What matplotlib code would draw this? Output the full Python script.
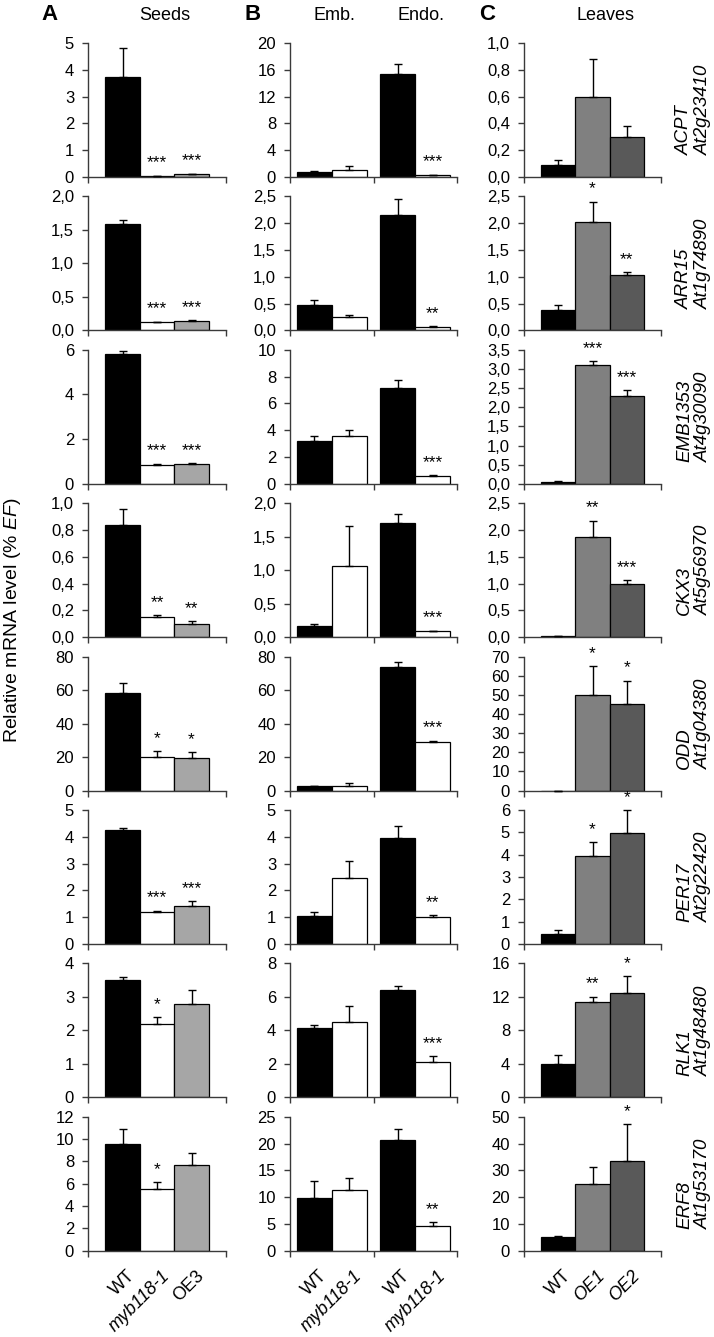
import matplotlib
matplotlib.use("Agg")
import matplotlib.pyplot as plt
from matplotlib import font_manager as fm
from matplotlib.ticker import FuncFormatter, MultipleLocator

# ---------------- data ----------------
genes = ["ACPT", "ARR15", "EMB1353", "CKX3", "ODD", "PER17", "RLK1", "ERF8"]
gene_ids = ["At2g23410", "At1g74890", "At4g30090", "At5g56970",
            "At1g04380", "At2g22420", "At1g48480", "At1g53170"]

seeds_labels = ["WT", "myb118-1", "OE3"]
emb_labels = ["WT", "myb118-1", "WT", "myb118-1"]
leaves_labels = ["WT", "OE1", "OE2"]

seeds_vals = [[3.72, 0.03, 0.10], [1.59, 0.12, 0.14], [5.80, 0.85, 0.88],
              [0.84, 0.15, 0.10], [58.0, 20.0, 19.5], [4.27, 1.20, 1.42],
              [3.50, 2.18, 2.80], [9.6, 5.5, 7.7]]
seeds_err = [[1.08, 0.01, 0.03], [0.06, 0.01, 0.015], [0.15, 0.05, 0.04],
             [0.12, 0.015, 0.02], [6.5, 3.5, 3.5], [0.04, 0.05, 0.18],
             [0.08, 0.22, 0.42], [1.3, 0.65, 1.05]]
seeds_stars = [["", "***", "***"], ["", "***", "***"], ["", "***", "***"],
               ["", "**", "**"], ["", "*", "*"], ["", "***", "***"],
               ["", "*", ""], ["", "*", ""]]

# Emb WT, Emb myb, Endo WT, Endo myb
embendo_vals = [[0.7, 1.0, 15.4, 0.3], [0.47, 0.25, 2.15, 0.07],
                [3.2, 3.6, 7.15, 0.55], [0.17, 1.06, 1.70, 0.09],
                [2.5, 3.0, 74.0, 29.0], [1.03, 2.45, 3.95, 1.0],
                [4.15, 4.5, 6.4, 2.1], [9.9, 11.4, 20.6, 4.6]]
embendo_err = [[0.15, 0.7, 1.5, 0.05], [0.09, 0.04, 0.30, 0.01],
               [0.35, 0.45, 0.6, 0.08], [0.02, 0.60, 0.14, 0.01],
               [0.5, 1.3, 2.5, 0.7], [0.17, 0.65, 0.45, 0.08],
               [0.2, 0.95, 0.25, 0.35], [3.1, 2.2, 2.2, 0.7]]
embendo_stars = [["", "", "", "***"], ["", "", "", "**"], ["", "", "", "***"],
                 ["", "", "", "***"], ["", "", "", "***"], ["", "", "", "**"],
                 ["", "", "", "***"], ["", "", "", "**"]]

leaves_vals = [[0.09, 0.60, 0.30], [0.38, 2.03, 1.03], [0.05, 3.10, 2.30],
               [0.02, 1.87, 1.00], [0.0, 50.0, 45.5], [0.45, 3.95, 4.95],
               [4.0, 11.4, 12.5], [5.0, 25.0, 33.5]]
leaves_err = [[0.04, 0.28, 0.08], [0.10, 0.37, 0.06], [0.02, 0.10, 0.15],
              [0.01, 0.30, 0.06], [0.0, 15.0, 12.0], [0.18, 0.60, 1.05],
              [1.05, 0.60, 2.0], [0.7, 6.2, 13.8]]
leaves_stars = [["", "", ""], ["", "*", "**"], ["", "***", "***"],
                ["", "**", "***"], ["", "*", "*"], ["", "*", "*"],
                ["", "**", "*"], ["", "", "*"]]

# axis ranges (max, step, decimals) per row for columns A, B, C
seeds_axis = [(5, 1, 0), (2.0, 0.5, 1), (6, 2, 0), (1.0, 0.2, 1),
              (80, 20, 0), (5, 1, 0), (4, 1, 0), (12, 2, 0)]
embendo_axis = [(20, 4, 0), (2.5, 0.5, 1), (10, 2, 0), (2.0, 0.5, 1),
                (80, 20, 0), (5, 1, 0), (8, 2, 0), (25, 5, 0)]
leaves_axis = [(1.0, 0.2, 1), (2.5, 0.5, 1), (3.5, 0.5, 1), (2.5, 0.5, 1),
               (70, 10, 0), (6, 1, 0), (16, 4, 0), (50, 10, 0)]

seeds_colors = ["#000000", "#ffffff", "#a6a6a6"]
embendo_colors = ["#000000", "#ffffff", "#000000", "#ffffff"]
leaves_colors = ["#000000", "#808080", "#595959"]

# ---------------- style ----------------
avail = {f.name for f in fm.fontManager.ttflist}
NARROW = "Liberation Sans Narrow" if "Liberation Sans Narrow" in avail else "Liberation Sans"
TICK_FS = 13 if NARROW == "Liberation Sans Narrow" else 12
plt.rcParams["font.family"] = ["Liberation Sans", "DejaVu Sans"]
plt.rcParams["mathtext.fontset"] = "custom"
plt.rcParams["mathtext.rm"] = "Liberation Sans"
plt.rcParams["mathtext.it"] = "Liberation Sans:italic"

W, H = 714, 1337
fig = plt.figure(figsize=(W / 100, H / 100), dpi=100)

col_px = [(88, 226), (290, 457), (524, 661)]
ROW_TOP0, ROW_PITCH, ROW_H = 43, 153.4, 134
AXCOL = "#3a3a3a"


def make_ax(col, row):
    x0, x1 = col_px[col]
    top = ROW_TOP0 + row * ROW_PITCH
    return fig.add_axes([x0 / W, 1 - (top + ROW_H) / H, (x1 - x0) / W, ROW_H / H])


def style_ax(ax, ymax, step, dec, boundaries):
    for s in ("top", "right"):
        ax.spines[s].set_visible(False)
    for s in ("left", "bottom"):
        ax.spines[s].set_color(AXCOL)
        ax.spines[s].set_linewidth(1.0)
    ax.set_ylim(0, ymax)
    ax.yaxis.set_major_locator(MultipleLocator(step))
    if dec:
        ax.yaxis.set_major_formatter(FuncFormatter(lambda v, p: f"{v:.1f}".replace(".", ",")))
    else:
        ax.yaxis.set_major_formatter(FuncFormatter(lambda v, p: f"{v:.0f}"))
    ax.tick_params(axis="y", direction="out", length=4, width=1, color=AXCOL,
                   pad=6, labelsize=TICK_FS)
    for t in ax.get_yticklabels():
        t.set_fontfamily(NARROW)
    ax.set_xticks(boundaries)
    ax.set_xticklabels([""] * len(boundaries))
    ax.tick_params(axis="x", direction="out", length=4, width=1, color=AXCOL)


def draw(ax, xs, vals, errs, colors, stars):
    ax.bar(xs, vals, width=1.0, color=colors, edgecolor="black", linewidth=0.9, zorder=2)
    ax.errorbar(xs, vals, yerr=[[0] * len(errs), errs], fmt="none", ecolor="black",
                elinewidth=1, capsize=2.8, capthick=1, zorder=3, clip_on=False)
    for x, v, e, s in zip(xs, vals, errs, stars):
        if s:
            ax.annotate(s, xy=(x, v + e), xytext=(0, 6), textcoords="offset points",
                        ha="center", va="baseline", fontsize=12.5, annotation_clip=False)


def xlabels(ax, xs, labels, italic):
    for x, lbl, it in zip(xs, labels, italic):
        ax.annotate(lbl, xy=(x, 0), xycoords=("data", "axes fraction"),
                    xytext=(3, -12), textcoords="offset points", rotation=45,
                    ha="right", va="top", rotation_mode="anchor", fontsize=13,
                    style="italic" if it else "normal", annotation_clip=False)


ab_x = [0, 1, 2]
cat_w = 2.386
be_x = [cat_w / 2 - 0.5, cat_w / 2 + 0.5, 1.5 * cat_w - 0.5, 1.5 * cat_w + 0.5]

for r in range(8):
    # A: seeds
    ax = make_ax(0, r)
    draw(ax, ab_x, seeds_vals[r], seeds_err[r], seeds_colors, seeds_stars[r])
    ax.set_xlim(-1, 3)
    style_ax(ax, *seeds_axis[r], [-1, 3])
    if r == 7:
        xlabels(ax, ab_x, seeds_labels, [False, True, False])
    # B: embryo / endosperm
    ax = make_ax(1, r)
    draw(ax, be_x, embendo_vals[r], embendo_err[r], embendo_colors, embendo_stars[r])
    ax.set_xlim(0, 2 * cat_w)
    style_ax(ax, *embendo_axis[r], [0, cat_w, 2 * cat_w])
    if r == 7:
        xlabels(ax, be_x, emb_labels, [False, True, False, True])
    # C: leaves
    ax = make_ax(2, r)
    draw(ax, ab_x, leaves_vals[r], leaves_err[r], leaves_colors, leaves_stars[r])
    ax.set_xlim(-1, 3)
    style_ax(ax, *leaves_axis[r], [-1, 3])
    if r == 7:
        xlabels(ax, ab_x, leaves_labels, [False, True, True])
    # gene label
    yc = ROW_TOP0 + r * ROW_PITCH + ROW_H / 2
    fig.text(694 / W, 1 - yc / H, f"{genes[r]}\n{gene_ids[r]}", rotation=90,
             ha="center", va="center", multialignment="left", fontsize=13.5,
             style="italic", linespacing=1.12)

# headers
hy = 1 - 15 / H
for x, t in [(50, "A"), (253, "B"), (487, "C")]:
    fig.text(x / W, hy, t, ha="center", va="center", fontsize=16, fontweight="bold")
for x, t in [(165, "Seeds"), (334, "Emb."), (421, "Endo."), (606, "Leaves")]:
    fig.text(x / W, hy, t, ha="center", va="center", fontsize=13)

fig.text(13 / W, 1 - 620 / H, r"Relative mRNA level (% $\mathit{EF}$)", rotation=90,
         ha="center", va="center", fontsize=14)

fig.savefig("out.png", dpi=100)
